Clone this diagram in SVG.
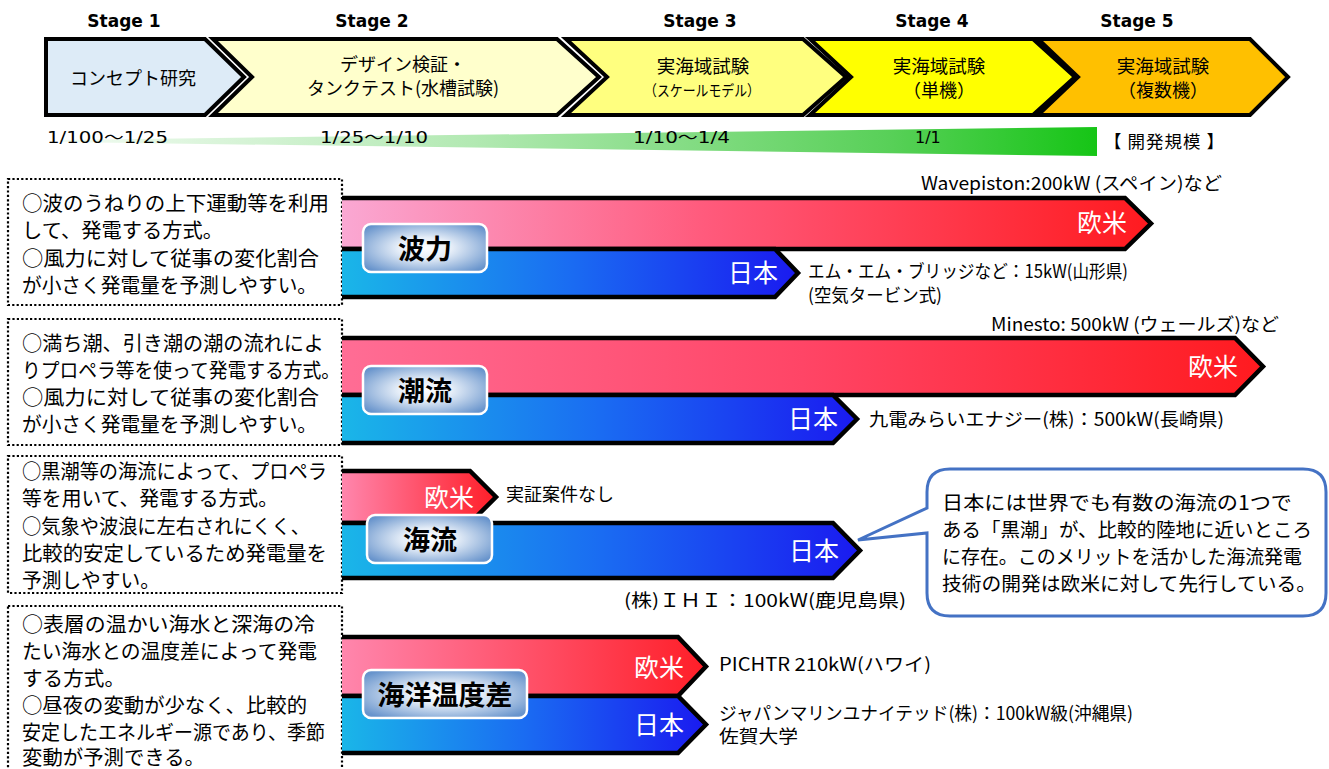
<svg xmlns="http://www.w3.org/2000/svg" width="1329" height="769" viewBox="0 0 1329 769">
<style>
.jp{font-family:"Noto Sans CJK JP","DejaVu Sans",sans-serif;fill:#000}
.stg{font-family:"DejaVu Sans","Liberation Sans",sans-serif;font-weight:bold;font-size:17px;text-anchor:middle;fill:#000}
.chev{stroke:#000;stroke-width:4;stroke-linejoin:miter}
.desc{font-family:"Noto Sans CJK JP",sans-serif;font-size:20px;fill:#000}
.dot{fill:#fff;stroke:#000;stroke-width:2.2;stroke-dasharray:2.2 2.2}
.bar{stroke:#000;stroke-width:4.5;fill:none;stroke-linejoin:miter}
.bl{font-family:"Noto Sans CJK JP",sans-serif;font-size:25px;fill:#fff;text-anchor:end}
.lbl{fill:url(#lblg);stroke:#fff;stroke-width:2.5}
.lt{font-family:"Noto Sans CJK JP",sans-serif;font-weight:bold;font-size:27px;text-anchor:middle;fill:#000}
.rt{font-family:"Noto Sans CJK JP",sans-serif;font-size:18px;fill:#000}
.sc{font-family:"DejaVu Sans","Noto Sans CJK JP",sans-serif;font-size:16px;fill:#000}
</style>
<defs>
<linearGradient id="green" x1="0" y1="0" x2="1" y2="0">
<stop offset="0" stop-color="#f2fbf2"/>
<stop offset="0.4" stop-color="#b2e9b2"/>
<stop offset="0.8" stop-color="#58d058"/>
<stop offset="1" stop-color="#16c516"/>
</linearGradient>
<linearGradient id="red1" x1="0" y1="0" x2="1" y2="0">
<stop offset="0" stop-color="#faa8d3"/>
<stop offset="0.45" stop-color="#ff5a7c"/>
<stop offset="1" stop-color="#ff1a1f"/>
</linearGradient>
<linearGradient id="red2" x1="0" y1="0" x2="1" y2="0">
<stop offset="0" stop-color="#ff6d95"/>
<stop offset="0.5" stop-color="#ff4566"/>
<stop offset="1" stop-color="#ff1a1f"/>
</linearGradient>
<linearGradient id="red3" x1="0" y1="0" x2="1" y2="0">
<stop offset="0" stop-color="#ff86ad"/>
<stop offset="1" stop-color="#ff1e28"/>
</linearGradient>
<linearGradient id="blue" x1="0" y1="0" x2="1" y2="0">
<stop offset="0" stop-color="#1ab6e8"/>
<stop offset="0.5" stop-color="#1a6cf2"/>
<stop offset="1" stop-color="#1a1af0"/>
</linearGradient>
<radialGradient id="lblg" cx="0.5" cy="0.5" r="0.62">
<stop offset="0" stop-color="#ffffff"/>
<stop offset="0.35" stop-color="#e6eef8"/>
<stop offset="1" stop-color="#6894cc"/>
</radialGradient>
</defs>

<g id="stage-labels">
<text class="stg" x="124" y="27">Stage 1</text>
<text class="stg" x="372" y="27">Stage 2</text>
<text class="stg" x="700" y="27">Stage 3</text>
<text class="stg" x="932" y="27">Stage 4</text>
<text class="stg" x="1137" y="27">Stage 5</text>
</g>

<g id="stage1">
<path class="chev" fill="#DDEBF7" d="M46,39 H205 L244,77 L205,115 H46 Z"/>
<text class="jp" x="133" y="85" font-size="18" text-anchor="middle">コンセプト研究</text>
</g>
<g id="stage2">
<path class="chev" fill="#FFFFCC" d="M213,39 H557 L599,77 L557,115 H213 L252,77 Z"/>
<text class="jp" x="403" y="71" font-size="18" text-anchor="middle">デザイン検証・</text>
<text class="jp" x="403" y="95" font-size="18" text-anchor="middle">タンクテスト(水槽試験)</text>
</g>
<g id="stage3">
<path class="chev" fill="#FFFF7F" d="M566,39 H803 L846,77 L803,115 H566 L607,77 Z"/>
<text class="jp" x="703" y="73" font-size="18.5" text-anchor="middle">実海域試験</text>
<text class="jp" x="702" y="96" font-size="15" text-anchor="middle" textLength="116" lengthAdjust="spacingAndGlyphs">（スケールモデル）</text>
</g>
<g id="stage4">
<path class="chev" fill="#FFFF00" d="M810,39 H1033 L1075,77 L1033,115 H810 L851,77 Z"/>
<text class="jp" x="939" y="73" font-size="18.5" text-anchor="middle">実海域試験</text>
<text class="jp" x="939" y="97" font-size="18" text-anchor="middle">（単機）</text>
</g>
<g id="stage5">
<path class="chev" fill="#FFC000" d="M1038,39 H1250 L1288,77 L1250,115 H1038 L1078,77 Z"/>
<text class="jp" x="1163" y="73" font-size="18.5" text-anchor="middle">実海域試験</text>
<text class="jp" x="1163" y="97" font-size="18" text-anchor="middle">（複数機）</text>
</g>

<g id="scale">
<polygon points="60,140 1097,127 1097,156 60,142" fill="url(#green)"/>
<text class="sc" x="47" y="143" textLength="121" lengthAdjust="spacingAndGlyphs">1/100～1/25</text>
<text class="sc" x="320" y="143" textLength="108" lengthAdjust="spacingAndGlyphs">1/25～1/10</text>
<text class="sc" x="633" y="143" textLength="97" lengthAdjust="spacingAndGlyphs">1/10～1/4</text>
<text class="sc" x="915" y="143">1/1</text>
<text class="jp" x="1104" y="148" font-size="17.5" textLength="120" lengthAdjust="spacing">【 開発規模 】</text>
</g>

<g id="wave">
<rect class="dot" x="8" y="179" width="334" height="126"/>
<text class="desc" x="22" y="211" textLength="307" lengthAdjust="spacingAndGlyphs">○波のうねりの上下運動等を利用</text>
<text class="desc" x="22" y="238" textLength="201" lengthAdjust="spacingAndGlyphs">して、発電する方式。</text>
<text class="desc" x="22" y="266" textLength="297" lengthAdjust="spacingAndGlyphs">○風力に対して従事の変化割合</text>
<text class="desc" x="22" y="293" textLength="295" lengthAdjust="spacingAndGlyphs">が小さく発電量を予測しやすい。</text>
<path fill="url(#red1)" d="M342,198 H1125 L1151,223.5 L1125,249 H342 Z"/>
<path class="bar" d="M342,198 H1125 L1151,223.5 L1125,249 H342"/>
<path fill="url(#blue)" d="M342,249 H775 L798,273 L775,297 H342 Z"/>
<path class="bar" d="M342,249 H775 L798,273 L775,297 H342"/>
<text class="bl" x="1127" y="232">欧米</text>
<text class="bl" x="778" y="282">日本</text>
<rect class="lbl" x="363" y="224" width="124" height="48" rx="8"/>
<text class="lt" x="425" y="259">波力</text>
<text class="rt" x="921" y="190" textLength="301" lengthAdjust="spacingAndGlyphs">Wavepiston:200kW (スペイン)など</text>
<text class="rt" x="808" y="278" textLength="320" lengthAdjust="spacingAndGlyphs">エム・エム・ブリッジなど：15kW(山形県)</text>
<text class="rt" x="808" y="302" textLength="134" lengthAdjust="spacingAndGlyphs">(空気タービン式)</text>
</g>

<g id="tidal">
<rect class="dot" x="8" y="319" width="334" height="126"/>
<text class="desc" x="22" y="351" textLength="302" lengthAdjust="spacingAndGlyphs">○満ち潮、引き潮の潮の流れによ</text>
<text class="desc" x="22" y="378" textLength="318" lengthAdjust="spacingAndGlyphs">りプロペラ等を使って発電する方式。</text>
<text class="desc" x="22" y="405" textLength="297" lengthAdjust="spacingAndGlyphs">○風力に対して従事の変化割合</text>
<text class="desc" x="22" y="432" textLength="295" lengthAdjust="spacingAndGlyphs">が小さく発電量を予測しやすい。</text>
<path fill="url(#red2)" d="M342,338 H1235 L1263,366.5 L1235,395 H342 Z"/>
<path class="bar" d="M342,338 H1235 L1263,366.5 L1235,395 H342"/>
<path fill="url(#blue)" d="M342,395 H833 L857,419 L833,443 H342 Z"/>
<path class="bar" d="M342,395 H833 L857,419 L833,443 H342"/>
<text class="bl" x="1238" y="376">欧米</text>
<text class="bl" x="838" y="428">日本</text>
<rect class="lbl" x="363" y="366" width="124" height="48" rx="8"/>
<text class="lt" x="425" y="401">潮流</text>
<text class="rt" x="991" y="331" textLength="288" lengthAdjust="spacingAndGlyphs">Minesto: 500kW (ウェールズ)など</text>
<text class="rt" x="869" y="426" textLength="355" lengthAdjust="spacingAndGlyphs">九電みらいエナジー(株)：500kW(長崎県)</text>
</g>

<g id="ocean-current">
<rect class="dot" x="8" y="456" width="334" height="137"/>
<text class="desc" x="22" y="479" textLength="305" lengthAdjust="spacingAndGlyphs">○黒潮等の海流によって、プロペラ</text>
<text class="desc" x="22" y="506" textLength="256" lengthAdjust="spacingAndGlyphs">等を用いて、発電する方式。</text>
<text class="desc" x="22" y="534" textLength="288" lengthAdjust="spacingAndGlyphs">○気象や波浪に左右されにくく、</text>
<text class="desc" x="22" y="561" textLength="305" lengthAdjust="spacingAndGlyphs">比較的安定しているため発電量を</text>
<text class="desc" x="22" y="588" textLength="138" lengthAdjust="spacingAndGlyphs">予測しやすい。</text>
<path fill="url(#red3)" d="M342,471 H470 L496,497 L470,523 H342 Z"/>
<path class="bar" d="M342,471 H470 L496,497 L470,523 H342"/>
<path fill="url(#blue)" d="M342,523 H833 L860,550.5 L833,578 H342 Z"/>
<path class="bar" d="M342,523 H833 L860,550.5 L833,578 H342"/>
<text class="bl" x="474" y="507">欧米</text>
<text class="bl" x="839" y="560">日本</text>
<rect class="lbl" x="367" y="515" width="125" height="48" rx="8"/>
<text class="lt" x="430" y="550">海流</text>
<text class="rt" x="506" y="501">実証案件なし</text>
<text class="rt" x="624" y="607" textLength="282" lengthAdjust="spacingAndGlyphs">(株)ＩＨＩ：100kW(鹿児島県)</text>
</g>

<g id="otec">
<rect class="dot" x="8" y="606" width="334" height="180"/>
<text class="desc" x="22" y="632" textLength="293" lengthAdjust="spacingAndGlyphs">○表層の温かい海水と深海の冷</text>
<text class="desc" x="22" y="659" textLength="295" lengthAdjust="spacingAndGlyphs">たい海水との温度差によって発電</text>
<text class="desc" x="22" y="686" textLength="103" lengthAdjust="spacingAndGlyphs">する方式。</text>
<text class="desc" x="22" y="713" textLength="285" lengthAdjust="spacingAndGlyphs">○昼夜の変動が少なく、比較的</text>
<text class="desc" x="22" y="740" textLength="303" lengthAdjust="spacingAndGlyphs">安定したエネルギー源であり、季節</text>
<text class="desc" x="22" y="765" font-size="19.5" textLength="183" lengthAdjust="spacingAndGlyphs">変動が予測できる。</text>
<path fill="url(#red3)" d="M342,637 H678 L706,666.5 L678,696 H342 Z"/>
<path class="bar" d="M342,637 H678 L706,666.5 L678,696 H342"/>
<path fill="url(#blue)" d="M342,696 H678 L706,724.5 L678,753 H342 Z"/>
<path class="bar" d="M342,696 H678 L706,724.5 L678,753 H342"/>
<text class="bl" x="684" y="677">欧米</text>
<text class="bl" x="684" y="734">日本</text>
<rect class="lbl" x="363" y="670" width="164" height="48" rx="8"/>
<text class="lt" x="445" y="705">海洋温度差</text>
<text class="rt" x="719" y="671" textLength="212" lengthAdjust="spacingAndGlyphs">PICHTR 210kW(ハワイ)</text>
<text class="rt" x="719" y="720" font-size="17.5" textLength="414" lengthAdjust="spacingAndGlyphs">ジャパンマリンユナイテッド(株)：100kW級(沖縄県)</text>
<text class="rt" x="719" y="743" font-size="17.5" textLength="79" lengthAdjust="spacingAndGlyphs">佐賀大学</text>
</g>

<g id="callout">
<path d="M950,469 H1303 Q1326,469 1326,492 V593 Q1326,616 1303,616 H950 Q927,616 927,593 V533 L858,540 L927,508 V492 Q927,469 950,469 Z" fill="#fff" stroke="#4472C4" stroke-width="3"/>
<text class="jp" x="942" y="510" font-size="19.5" textLength="350" lengthAdjust="spacingAndGlyphs">日本には世界でも有数の海流の1つで</text>
<text class="jp" x="942" y="537" font-size="19.5" textLength="370" lengthAdjust="spacingAndGlyphs">ある「黒潮」が、比較的陸地に近いところ</text>
<text class="jp" x="942" y="564" font-size="19.5" textLength="360" lengthAdjust="spacingAndGlyphs">に存在。このメリットを活かした海流発電</text>
<text class="jp" x="942" y="591" font-size="19.5" textLength="374" lengthAdjust="spacingAndGlyphs">技術の開発は欧米に対して先行している。</text>
</g>
</svg>
